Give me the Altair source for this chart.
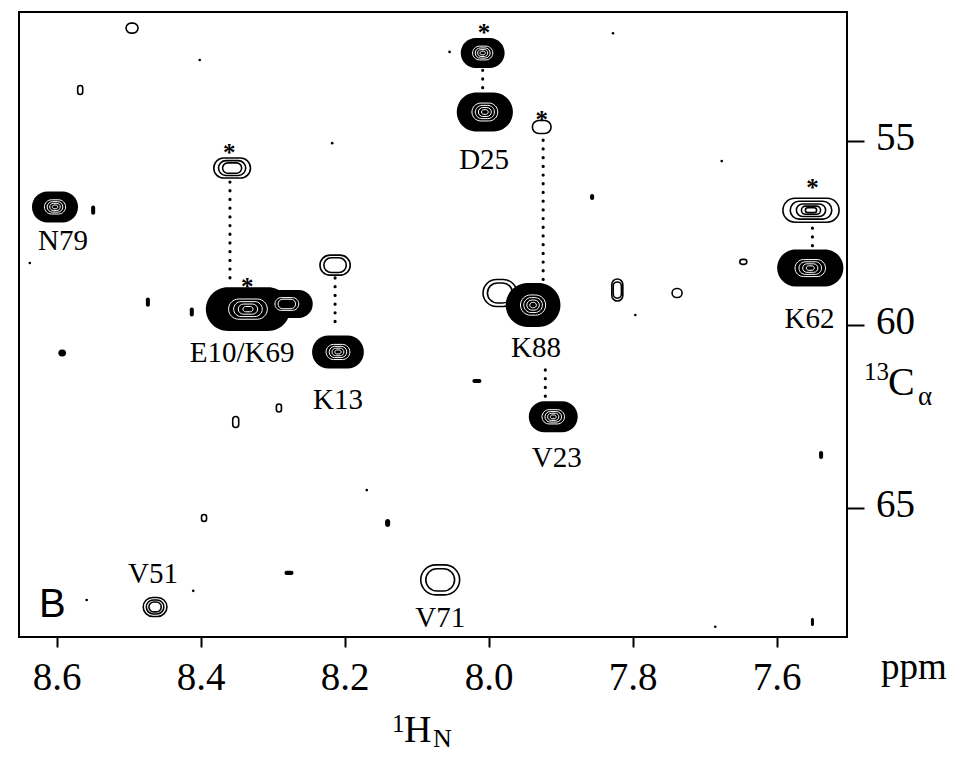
import altair as alt
import pandas as pd

# ---------------- data (ppm) ----------------
# strong (filled) cross peaks: 1H (ppm), 13C (ppm), linewidth 1H, linewidth 13C, inner contour levels
fp_h  = [8.603, 8.009, 8.006, 7.939, 8.210, 7.911, 7.554, 8.335, 8.281,
         8.593, 8.550, 8.474, 8.413, 8.017, 8.278, 8.141, 7.539, 7.551, 7.857]
fp_c  = [56.79, 52.59, 54.20, 59.47, 60.75, 62.52, 58.46, 59.58, 59.44,
         60.78, 56.88, 59.39, 59.66, 61.54, 66.78, 65.42, 63.56, 68.12, 56.52]
fp_wh = [0.064, 0.061, 0.078, 0.076, 0.072, 0.068, 0.092, 0.117, 0.072,
         0.011, 0.0056, 0.0056, 0.0056, 0.0125, 0.0125, 0.007, 0.0056, 0.0042, 0.0056]
fp_wc = [0.846, 0.819, 1.064, 1.20, 0.90, 0.846, 1.01, 1.20, 0.76,
         0.19, 0.25, 0.25, 0.25, 0.11, 0.11, 0.22, 0.22, 0.22, 0.16]
fp_lv = [4, 4, 4, 4, 4, 4, 4, 4, 2,
         0, 0, 0, 0, 0, 0, 0, 0, 0, 0]

# weak (outline) cross peaks
op_h  = [7.553, 8.357, 7.927, 8.214, 7.985, 8.464, 8.068, 8.496, 8.568,
         7.822, 7.739, 7.647, 8.352, 8.292, 8.396]
op_c  = [56.88, 55.73, 54.61, 58.38, 59.14, 67.71, 66.97, 51.91, 53.60,
         59.06, 59.14, 58.29, 62.66, 62.28, 65.28]
op_wh = [0.078, 0.051, 0.026, 0.042, 0.047, 0.033, 0.054, 0.0167, 0.007,
         0.0153, 0.0139, 0.0097, 0.0083, 0.007, 0.007]
op_wc = [0.655, 0.546, 0.355, 0.546, 0.737, 0.518, 0.819, 0.273, 0.246,
         0.60, 0.246, 0.136, 0.30, 0.22, 0.19]
op_lv = [5, 3, 1, 2, 2, 3, 2, 1, 1, 2, 1, 1, 1, 1, 1]

# noise specks
dot_h = [8.402, 8.638, 8.218, 8.055, 7.828, 7.677, 7.797, 8.170, 8.559, 8.411, 7.686]
dot_c = [52.78, 58.32, 55.05, 52.56, 52.05, 55.54, 59.74, 64.52, 67.52, 67.27, 68.25]

# dotted connectors (1H, 13C start, 13C end)
con_h  = [8.360, 8.009, 7.925, 8.214, 7.922, 7.551]
con_c1 = [56.11, 53.06, 54.97, 58.73, 61.24, 57.37]
con_c2 = [58.92, 53.66, 58.87, 60.15, 62.06, 57.91]

# asterisks
star_h = [8.361, 8.336, 8.007, 7.927, 7.551]
star_c = [55.19, 58.84, 51.91, 54.28, 56.14]

# residue labels
lab_text = ["N79", "D25", "E10/K69", "K13", "K88", "V23", "V71", "V51", "K62"]
lab_h    = [8.592, 8.007, 8.343, 8.210, 7.935, 7.906, 8.068, 8.467, 7.555]
lab_c    = [57.69, 55.49, 60.75, 62.03, 60.61, 63.62, 67.98, 66.78, 59.82]

x_ticks = [8.6, 8.4, 8.2, 8.0, 7.8, 7.6]
x_tick_labels = ["8.6", "8.4", "8.2", "8.0", "7.8", "7.6"]
y_ticks = [55, 60, 65]
y_tick_labels = ["55", "60", "65"]

# ---------------- contour rings built from the peak table ----------------
WHITE_FR = [0.46, 0.34, 0.23, 0.12]
OUT_FR = [1.0, 0.74, 0.52, 0.34, 0.2]

fill_rows, white_rows, out_rows = [], [], []
for h, c, wh, wc, lv in zip(fp_h, fp_c, fp_wh, fp_wc, fp_lv):
    fill_rows.append(dict(x1=h - wh / 2, x2=h + wh / 2, y1=c - wc / 2, y2=c + wc / 2))
    for f in WHITE_FR[:lv]:
        white_rows.append(dict(x1=h - wh * f / 2, x2=h + wh * f / 2,
                               y1=c - wc * f / 2, y2=c + wc * f / 2))
for h, c, wh, wc, lv in zip(op_h, op_c, op_wh, op_wc, op_lv):
    for f in OUT_FR[:lv]:
        out_rows.append(dict(x1=h - wh * f / 2, x2=h + wh * f / 2,
                             y1=c - wc * f / 2, y2=c + wc * f / 2))

df_fill = pd.DataFrame(fill_rows)
df_white = pd.DataFrame(white_rows)
df_out = pd.DataFrame(out_rows)
df_dot = pd.DataFrame({"x": dot_h, "y": dot_c})
df_con = pd.DataFrame({"x": con_h, "y": con_c1, "y2": con_c2})
df_star = pd.DataFrame({"x": star_h, "y": star_c})
df_lab = pd.DataFrame({"x": lab_h, "y": lab_c, "t": lab_text})
df_xt = pd.DataFrame({"x": x_ticks, "t": x_tick_labels})
df_yt = pd.DataFrame({"y": y_ticks, "t": y_tick_labels})

SERIF = "Liberation Serif"
W, H = 828, 625
xs = alt.Scale(domain=[7.503, 8.653], reverse=True, nice=False, zero=False)
ys = alt.Scale(domain=[51.47, 68.53], reverse=True, nice=False, zero=False)

x_axis = alt.Axis(values=x_ticks, orient="bottom", grid=False, domain=False, labels=False,
                  tickSize=10, tickWidth=2, tickColor="black", title=None)
y_axis = alt.Axis(values=y_ticks, orient="right", grid=False, domain=False, labels=False,
                  tickSize=17, tickWidth=2, tickColor="black", title=None)


def X(f):
    return alt.X(f, scale=xs, axis=x_axis)


def Y(f):
    return alt.Y(f, scale=ys, axis=y_axis)


fill_layer = alt.Chart(df_fill).mark_rect(color="black", cornerRadius=999).encode(
    x=X("x1:Q"), x2="x2:Q", y=Y("y1:Q"), y2="y2:Q")

white_layer = alt.Chart(df_white).mark_rect(fillOpacity=0, stroke="white", strokeWidth=1.0,
                                            cornerRadius=999).encode(
    x=X("x1:Q"), x2="x2:Q", y=Y("y1:Q"), y2="y2:Q")

out_layer = alt.Chart(df_out).mark_rect(fill="white", fillOpacity=0, stroke="black",
                                        strokeWidth=1.6, cornerRadius=999).encode(
    x=X("x1:Q"), x2="x2:Q", y=Y("y1:Q"), y2="y2:Q")

dot_layer = alt.Chart(df_dot).mark_point(filled=True, color="black", size=7, opacity=1).encode(
    x=X("x:Q"), y=Y("y:Q"))

con_layer = alt.Chart(df_con).mark_rule(color="black", strokeWidth=3.2, strokeCap="round",
                                        strokeDash=[0.1, 8.6]).encode(
    x=X("x:Q"), y=Y("y:Q"), y2="y2:Q")

star_layer = alt.Chart(df_star).mark_text(text="*", font=SERIF, fontSize=25, fontWeight="bold",
                                          color="black", dy=13, baseline="alphabetic").encode(
    x=X("x:Q"), y=Y("y:Q"))

lab_layer = alt.Chart(df_lab).mark_text(font=SERIF, fontSize=29, color="black", dy=10,
                                        baseline="alphabetic", align="center").encode(
    x=X("x:Q"), y=Y("y:Q"), text="t:N")

# tick labels drawn through the same scales
xt_layer = alt.Chart(df_xt).mark_text(font=SERIF, fontSize=39, color="black",
                                      baseline="alphabetic", align="center").encode(
    x=X("x:Q"), y=alt.value(H + 53), text="t:N")

yt_layer = alt.Chart(df_yt).mark_text(font=SERIF, fontSize=39, color="black", dy=9,
                                      baseline="alphabetic", align="left").encode(
    x=alt.value(W + 29), y=Y("y:Q"), text="t:N")

one = pd.DataFrame({"k": [0]})


def note(txt, px, py, size, font=SERIF, align="left"):
    return alt.Chart(one).mark_text(text=txt, font=font, fontSize=size, color="black",
                                    align=align, baseline="alphabetic").encode(
        x=alt.value(px), y=alt.value(py))


notes = [
    note("ppm", 862, 667, 37),
    note("1", 373, 720, 25),
    note("H", 385, 730, 38),
    note("N", 414, 735, 26),
    note("13", 845, 368, 25),
    note("C", 869, 383, 40),
    note("\u03b1", 899, 393, 27),
    note("B", 20, 605, 40, font="Liberation Sans"),
]

chart = alt.layer(fill_layer, white_layer, out_layer, dot_layer, con_layer, star_layer,
                  lab_layer, xt_layer, yt_layer, *notes).properties(
    width=W, height=H,
    padding={"left": 11, "top": 4, "right": 100, "bottom": 115},
    autosize=alt.AutoSizeParams(type="none"),
    background="white",
).configure_view(stroke="black", strokeWidth=2)

chart.save("out.html", embed_options={"renderer": "svg", "actions": False})
